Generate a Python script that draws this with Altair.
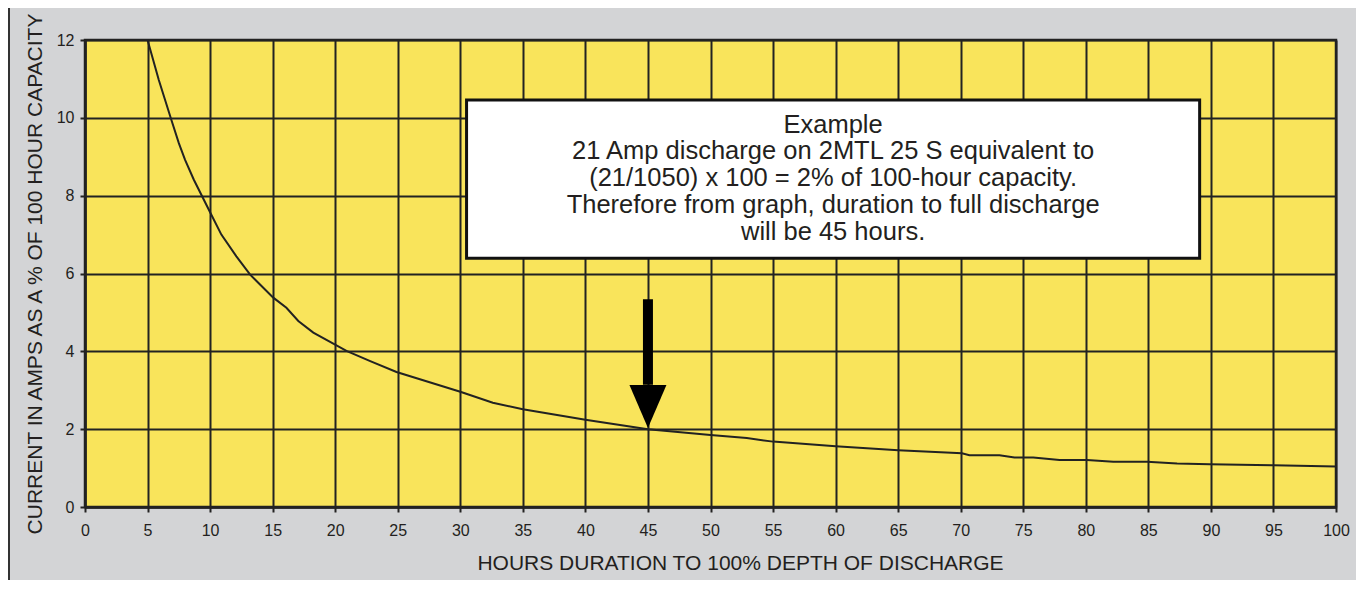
import altair as alt
import pandas as pd

# ---- data ----
hours = [5, 5.9, 6.9, 7.5, 8, 8.7, 10.1, 10.9, 12.1, 13.2, 15.05, 16.1, 17.05, 18.25,
         20.9, 22.8, 24.9, 30, 32.6, 35, 40, 45, 50, 52.9, 55, 60, 65, 70.1, 70.7,
         73.1, 74.3, 75.8, 77.9, 80.1, 82.2, 84.9, 87.3, 89.9, 95, 100]
current = [12, 10.97, 9.95, 9.35, 8.92, 8.41, 7.51, 7.0, 6.44, 5.97, 5.38, 5.12, 4.78, 4.48,
           4.01, 3.75, 3.47, 2.96, 2.68, 2.51, 2.24, 2.0, 1.85, 1.77, 1.68, 1.56, 1.46, 1.38, 1.33,
           1.33, 1.27, 1.27, 1.21, 1.21, 1.16, 1.16, 1.12, 1.10, 1.07, 1.04]

x_tick_values = list(range(0, 101, 5))
y_tick_values = list(range(0, 13, 1))

note_lines = ["Example",
              "21 Amp discharge on 2MTL 25 S equivalent to",
              "(21/1050) x 100 = 2% of 100-hour capacity.",
              "Therefore from graph, duration to full discharge",
              "will be 45 hours."]
note_box = {"x": 30.5, "x2": 89.1, "y": 10.46, "y2": 6.39}
note_text_pos = {"x": 59.8, "y": 10.13}
arrow = {"x": 45, "top": 5.34, "base": 3.14, "head_center": 2.585}

FONT = "Liberation Sans, Arial, Helvetica, sans-serif"
INK = "#222222"

curve_df = pd.DataFrame({"hours": hours, "current": current})

xs = alt.Scale(domain=[0, 100], nice=False, zero=False)
ys = alt.Scale(domain=[0, 12], nice=False, zero=False)

curve = alt.Chart(curve_df).mark_line(color=INK, strokeWidth=2).encode(
    x=alt.X("hours:Q", scale=xs,
            axis=alt.Axis(values=x_tick_values, title="HOURS DURATION TO 100% DEPTH OF DISCHARGE",
                          titleX=655, titleY=56, titleBaseline="middle", titleAlign="center",
                          labelPadding=10, tickSize=5, labelFlush=False)),
    y=alt.Y("current:Q", scale=ys,
            axis=alt.Axis(values=y_tick_values, title="CURRENT IN AMPS AS A % OF 100 HOUR CAPACITY",
                          labelExpr="datum.value % 2 == 0 ? datum.label : ''",
                          tickOpacity={"condition": {"test": "datum.value % 2 === 0", "value": 1}, "value": 0},
                          titleAngle=270, titleX=-50, titleY=233.5, titleBaseline="middle",
                          titleAlign="center", labelPadding=6, tickSize=5, labelFlush=False)),
)

box_df = pd.DataFrame([note_box])
box = alt.Chart(box_df).mark_rect(fill="white", stroke="#111111", strokeWidth=3).encode(
    x=alt.X("x:Q", scale=xs), x2="x2:Q", y=alt.Y("y:Q", scale=ys), y2="y2:Q"
)

text_df = pd.DataFrame([{"x": note_text_pos["x"], "y": note_text_pos["y"], "t": "\n".join(note_lines)}])
note = alt.Chart(text_df).mark_text(
    font=FONT, fontSize=25.5, lineHeight=26.7, lineBreak="\n", align="center", baseline="top", color="#231f20"
).encode(x=alt.X("x:Q", scale=xs), y=alt.Y("y:Q", scale=ys), text="t:N")

shaft_df = pd.DataFrame([{"x": arrow["x"], "y": arrow["top"], "y2": arrow["base"]}])
shaft = alt.Chart(shaft_df).mark_rule(color="black", strokeWidth=10, strokeCap="butt").encode(
    x=alt.X("x:Q", scale=xs), y=alt.Y("y:Q", scale=ys), y2="y2:Q"
)

head_df = pd.DataFrame([{"x": arrow["x"], "y": arrow["head_center"]}])
head = alt.Chart(head_df).mark_point(
    shape="M -0.86 -1 L 0.86 -1 L 0 1 Z", size=1849, filled=True, fill="black",
    opacity=1, strokeWidth=0
).encode(x=alt.X("x:Q", scale=xs), y=alt.Y("y:Q", scale=ys))

frame_left = alt.Chart(pd.DataFrame({"a": [0]})).mark_rule(color="#333333", strokeWidth=2).encode(
    x=alt.value(-76), y=alt.value(-40), y2=alt.value(600)
)
frame_right = alt.Chart(pd.DataFrame({"a": [0]})).mark_rule(color="#333333", strokeWidth=2).encode(
    x=alt.value(1273), y=alt.value(-40), y2=alt.value(600)
)

chart = alt.layer(curve, box, note, shaft, head, frame_left, frame_right).properties(
    width=1251, height=467,
    autosize=alt.AutoSizeParams(type="none"),
    padding={"left": 77, "top": 32, "right": 20, "bottom": 73},
).configure(
    background="#d3d4d6", font=FONT
).configure_view(
    fill="#f9e45b", stroke=INK, strokeWidth=2.5
).configure_axis(
    grid=True, gridColor=INK, gridWidth=2, gridOpacity=1,
    domainColor=INK, domainWidth=2.5, tickColor=INK, tickWidth=2,
    labelFont=FONT, labelFontSize=16, labelColor="#231f20",
    titleFont=FONT, titleFontSize=21, titleFontWeight="normal", titleColor="#231f20",
)

chart.save("out.html", embed_options={"renderer": "svg", "actions": False})
